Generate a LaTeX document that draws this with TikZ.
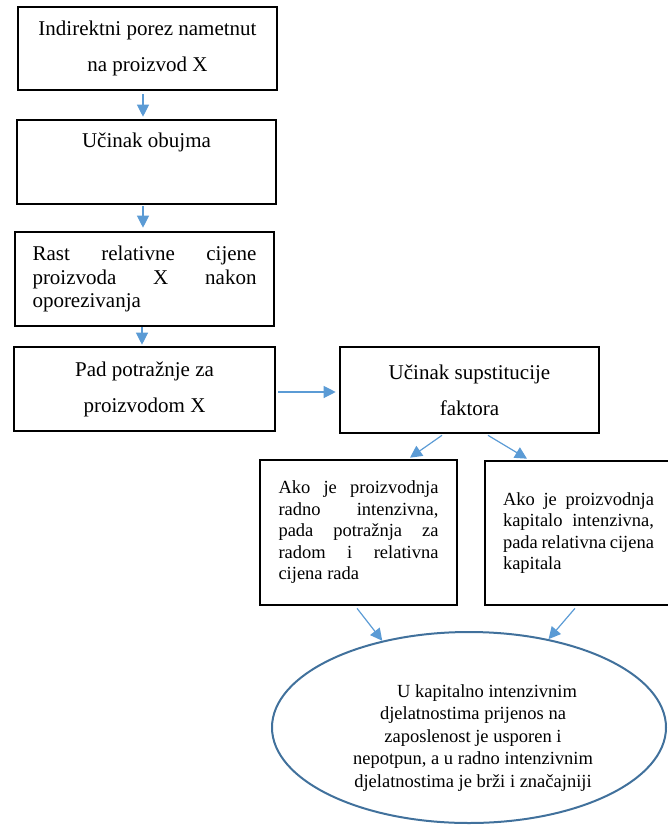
\documentclass[tikz,border=0pt]{standalone}
\usepackage{fontspec}
\setmainfont{Liberation Serif}
\usetikzlibrary{arrows.meta,shapes.geometric}
\definecolor{arrowblue}{HTML}{5B9BD5}
\definecolor{ellblue}{HTML}{41719C}
\newcommand{\nohyph}{\hyphenpenalty 10000\exhyphenpenalty 10000\relax}
\tikzset{
  box/.style={draw=black, line width=2.6pt, inner sep=0pt},
  arr/.style={draw=arrowblue, line width=1.2pt, -{Triangle[length=12pt,width=12pt]}},
  big/.style={font=\fontsize{21}{36}\selectfont},
  bigj/.style={font=\fontsize{21}{23.5}\selectfont\nohyph},
  small/.style={font=\fontsize{18.5}{21.5}\selectfont\nohyph},
}
\begin{document}
\begin{tikzpicture}[x=1pt,y=-1pt]
\useasboundingbox (0,0) rectangle (667,825);

\node[box, big, minimum width=259pt, minimum height=83pt, align=center] (b1) at (147.5,48.5)
  {Indirektni porez nametnut\\na proizvod X};
\node[box, minimum width=259pt, minimum height=84pt] (b2) at (146.5,162) {};
\node[big, anchor=base] (t2) at (146.5,147) {Učinak obujma};
\node[box, bigj, minimum width=259pt, minimum height=94pt, text width=224pt, align=justify] (b3) at (144.5,279)
  {Rast relativne cijene proizvoda X nakon oporezivanja};
\node[box, big, minimum width=261pt, minimum height=84pt, align=center] (b4) at (144.5,389)
  {Pad potražnje za\\proizvodom X};
\node[box, big, minimum width=259pt, minimum height=86pt, align=center] (b5) at (469.5,390)
  {Učinak supstitucije\\faktora};
\node[box, small, minimum width=197pt, minimum height=145pt, text width=160pt, align=justify] (b6) at (358.5,532.5)
  {Ako je proizvodnja radno intenzivna, pada potražnja za radom i relativna cijena rada};
\node[box, small, minimum width=187pt, minimum height=144pt, text width=151pt, align=justify] (b7) at (578.5,533)
  {Ako je proizvodnja kapitalo intenzivna, pada relativna cijena kapitala};
\node[draw=ellblue, line width=2pt, ellipse, minimum width=394pt, minimum height=191pt, inner sep=0pt] (ell) at (469,727.5) {};
\node[font=\fontsize{18.5}{22.5}\selectfont, align=center] (t8) at (473,738)
  {\hspace*{28pt}U kapitalno intenzivnim\\djelatnostima prijenos na\\zaposlenost je usporen i\\nepotpun, a u radno intenzivnim\\djelatnostima je brži i značajniji};

\draw[arr] ([xshift=-4.5pt,yshift=-3pt]b1.south) -- ([xshift=-3.5pt,yshift=2pt]b2.north);
\draw[arr] ([xshift=-3.5pt,yshift=-1pt]b2.south) -- ([xshift=-1.5pt,yshift=3pt]b3.north);
\draw[arr] ([xshift=-2.5pt,yshift=0pt]b3.south) -- ([xshift=-2.5pt,yshift=1pt]b4.north);
\draw[arr] ([xshift=2pt,yshift=-3pt]b4.east) -- ([xshift=-3pt,yshift=-2pt]b5.west);
\draw[arr] ([xshift=-27.5pt,yshift=-1pt]b5.south) -- ([xshift=51.5pt,yshift=1pt]b6.north);
\draw[arr] ([xshift=18.5pt,yshift=-1pt]b5.south) -- ([xshift=-51.5pt,yshift=1pt]b7.north);
\draw[arr] ([xshift=-1.5pt,yshift=-2pt]b6.south) -- (ell.135);
\draw[arr] ([xshift=-3.5pt,yshift=-2pt]b7.south) -- (ell.48);
\end{tikzpicture}
\end{document}
